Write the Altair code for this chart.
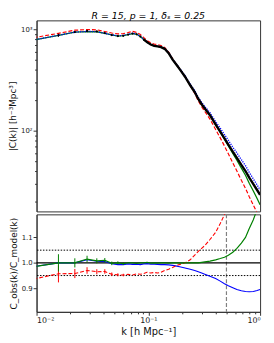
import altair as alt
import pandas as pd

# ---- data ----
k = [0.0094, 0.0157, 0.0220, 0.0283, 0.0346, 0.0408, 0.0471, 0.0534, 0.0597, 0.0660,
     0.0722, 0.0785, 0.0848, 0.0911, 0.0974, 0.105, 0.113, 0.121, 0.130, 0.140,
     0.152, 0.165, 0.180, 0.195, 0.213, 0.237, 0.26, 0.28, 0.30, 0.32,
     0.356, 0.40, 0.44, 0.48, 0.52, 0.57, 0.62, 0.68, 0.74, 0.80,
     0.87, 0.94, 1.00]
c_obs = [770, 870, 935, 960, 950, 915, 875, 855, 860, 885,
         905, 890, 845, 790, 745, 705, 685, 675, 665, 640,
         580, 500, 440, 390, 340, 280, 240, 205, 182, 165,
         142, 115, 98, 84, 73, 62, 54, 46, 40, 34.4,
         29.7, 26, 23.3]
ratio_green = [0.985, 1.000, 1.000, 1.015, 1.008, 1.010, 0.998, 1.000, 0.997, 1.000,
               1.000, 0.998, 1.000, 1.000, 1.002, 0.999, 1.000, 0.999, 1.000, 1.000,
               0.999, 1.000, 1.000, 0.999, 1.000, 1.000, 1.000, 1.000, 1.002, 1.004,
               1.007, 1.012, 1.017, 1.022, 1.030, 1.042, 1.057, 1.078, 1.100, 1.135,
               1.170, 1.210, 1.250]
ratio_red = [0.936, 0.957, 0.958, 0.970, 0.965, 0.966, 0.955, 0.953, 0.952, 0.955,
             0.952, 0.957, 0.955, 0.958, 0.963, 0.960, 0.962, 0.960, 0.963, 0.970,
             0.975, 0.982, 0.990, 0.995, 1.000, 1.012, 1.030, 1.045, 1.057, 1.068,
             1.092, 1.120, 1.155, 1.190, 1.235, 1.290, 1.350, 1.420, 1.480, 1.540,
             1.610, 1.680, 1.750]
ratio_blue = [0.985, 1.000, 1.000, 1.012, 1.006, 1.005, 0.997, 0.993, 0.993, 0.996,
              0.994, 0.995, 0.993, 0.996, 0.997, 0.995, 0.995, 0.994, 0.993, 0.993,
              0.992, 0.990, 0.987, 0.984, 0.980, 0.975, 0.970, 0.965, 0.960, 0.955,
              0.947, 0.938, 0.928, 0.918, 0.910, 0.902, 0.895, 0.890, 0.887, 0.886,
              0.887, 0.891, 0.895]
err_k = [0.0157, 0.0220, 0.0283, 0.0346, 0.0408, 0.0471, 0.0534, 0.0597]
err_rel = [0.034, 0.018, 0.013, 0.010, 0.009, 0.007, 0.006, 0.005]

title_text = "R = 15, p = 1, δₛ = 0.25"
ytop_title = "|C(k)| [h⁻³Mpc³]"
ybot_title = "C_obs(k)/C_model(k)"
x_title = "k [h Mpc⁻¹]"
k_cut = 0.5
ref_levels = [0.95, 1.05]

# ---- tables ----
df = pd.DataFrame({"k": k, "obs": c_obs, "rg": ratio_green, "rr": ratio_red, "rb": ratio_blue})
df["green"] = df["obs"] / df["rg"]
df["red"] = df["obs"] / df["rr"]
df["blue"] = df["obs"] / df["rb"]

idx = {kv: i for i, kv in enumerate(k)}
err = pd.DataFrame({"k": err_k, "e": err_rel})
err["obs_lo"] = [c_obs[idx[kv]] * (1 - e) for kv, e in zip(err_k, err_rel)]
err["obs_hi"] = [c_obs[idx[kv]] * (1 + e) for kv, e in zip(err_k, err_rel)]
err["g_lo"] = [ratio_green[idx[kv]] - e for kv, e in zip(err_k, err_rel)]
err["g_hi"] = [ratio_green[idx[kv]] + e for kv, e in zip(err_k, err_rel)]
err["r_lo"] = [ratio_red[idx[kv]] - e for kv, e in zip(err_k, err_rel)]
err["r_hi"] = [ratio_red[idx[kv]] + e for kv, e in zip(err_k, err_rel)]

W = 227
FONT = "DejaVu Sans"
xscale = alt.Scale(type="log", domain=[0.01, 1], nice=False)

# ---- top panel ----
ytop_scale = alt.Scale(type="log", domain=[16, 1220], nice=False)
ytop_vals = [20, 30, 40, 50, 60, 70, 80, 90, 100, 200, 300, 400, 500, 600, 700, 800, 900, 1000]
ytop_axis = alt.Axis(
    values=ytop_vals,
    labelExpr="datum.value == 100 ? '10²' : datum.value == 1000 ? '10³' : ''",
    tickSize={"condition": {"test": "datum.value == 100 || datum.value == 1000", "value": 3.5}, "value": 2},
    title=ytop_title, grid=False, labelFontSize=7, titleFontSize=9,
    labelPadding=1, titlePadding=3, labelOverlap=False,
)
xt = alt.X("k:Q", scale=xscale, axis=None)

base_top = alt.Chart(df)
green_top = base_top.mark_line(color="green", strokeWidth=1.3, clip=True).encode(
    x=xt, y=alt.Y("green:Q", scale=ytop_scale, axis=ytop_axis))
red_top = base_top.mark_line(color="red", strokeWidth=1.2, strokeDash=[4, 2], clip=True).encode(
    x=xt, y=alt.Y("red:Q", scale=ytop_scale))
blue_top = base_top.mark_line(color="blue", strokeWidth=1.4, strokeDash=[1.2, 1.2], clip=True).encode(
    x=xt, y=alt.Y("blue:Q", scale=ytop_scale))
black_line = base_top.transform_filter("datum.k >= 0.09").mark_line(
    color="black", strokeWidth=2.4, clip=True).encode(x=xt, y=alt.Y("obs:Q", scale=ytop_scale))
black_pts = base_top.transform_filter("datum.k < 0.1").mark_circle(
    color="black", size=5, opacity=1, clip=True).encode(x=xt, y=alt.Y("obs:Q", scale=ytop_scale))
black_err = alt.Chart(err).mark_rule(color="black", strokeWidth=1, clip=True).encode(
    x=xt, y=alt.Y("obs_lo:Q", scale=ytop_scale), y2="obs_hi:Q")

top = alt.layer(green_top, red_top, blue_top, black_line, black_pts, black_err).properties(
    width=W, height=194,
    title=alt.Title(title_text, fontSize=9.5, fontStyle="italic", font=FONT,
                    fontWeight="normal", offset=0, anchor="middle"),
)

# ---- bottom panel ----
ybot_scale = alt.Scale(domain=[0.807, 1.191], nice=False, zero=False)
ybot_axis = alt.Axis(values=[0.9, 1.0, 1.1], format=".1f", title=ybot_title, grid=False,
                     labelFontSize=7, titleFontSize=9, tickSize=3.5, labelPadding=1, titlePadding=3)
xb_vals = [0.01, 0.02, 0.03, 0.04, 0.05, 0.06, 0.07, 0.08, 0.09,
           0.1, 0.2, 0.3, 0.4, 0.5, 0.6, 0.7, 0.8, 0.9, 1.0]
xb_axis = alt.Axis(
    values=xb_vals,
    labelExpr="abs(datum.value - 0.01) < 1e-9 ? '10⁻²' : abs(datum.value - 0.1) < 1e-9 ? '10⁻¹' : abs(datum.value - 1) < 1e-9 ? '10⁰' : ''",
    tickSize={"condition": {"test": "abs(datum.value - 0.01) < 1e-9 || abs(datum.value - 0.1) < 1e-9 || abs(datum.value - 1) < 1e-9", "value": 3.5}, "value": 2},
    title=x_title, grid=False, labelFontSize=8, titleFontSize=10,
    labelPadding=1, titlePadding=2, labelOverlap=False,
)
xb = alt.X("k:Q", scale=xscale, axis=xb_axis)
xb2 = alt.X("k:Q", scale=xscale)

base_bot = alt.Chart(df)
one_line = alt.Chart(pd.DataFrame({"y": [1.0]})).mark_rule(color="black", strokeWidth=1.3).encode(
    y=alt.Y("y:Q", scale=ybot_scale, axis=ybot_axis))
dots = alt.Chart(pd.DataFrame({"y": ref_levels})).mark_rule(
    color="black", strokeWidth=1, strokeDash=[1.5, 1.5]).encode(y=alt.Y("y:Q", scale=ybot_scale))
vcut = alt.Chart(pd.DataFrame({"k": [k_cut]})).mark_rule(
    color="gray", strokeWidth=1.2, strokeDash=[4, 2]).encode(x=xb)
g_bot = base_bot.mark_line(color="green", strokeWidth=1.2, clip=True).encode(
    x=xb2, y=alt.Y("rg:Q", scale=ybot_scale))
r_bot = base_bot.mark_line(color="red", strokeWidth=1.1, strokeDash=[4, 2], clip=True).encode(
    x=xb2, y=alt.Y("rr:Q", scale=ybot_scale))
b_bot = base_bot.mark_line(color="blue", strokeWidth=1.1, clip=True).encode(
    x=xb2, y=alt.Y("rb:Q", scale=ybot_scale))
g_err = alt.Chart(err).mark_rule(color="green", strokeWidth=1, clip=True).encode(
    x=xb2, y=alt.Y("g_lo:Q", scale=ybot_scale), y2="g_hi:Q")
r_err = alt.Chart(err).mark_rule(color="red", strokeWidth=1, clip=True).encode(
    x=xb2, y=alt.Y("r_lo:Q", scale=ybot_scale), y2="r_hi:Q")

bottom = alt.layer(vcut, one_line, dots, b_bot, r_bot, r_err, g_bot, g_err).properties(
    width=W, height=99)

chart = alt.vconcat(top, bottom, spacing=0).properties(
    padding={"left": 0, "top": 0, "right": 4, "bottom": 0}
).configure_view(
    stroke="#333", strokeWidth=1
).configure_axis(
    domainColor="#333", tickColor="#333", labelColor="#222", titleColor="#111",
    labelFont=FONT, titleFont=FONT, titleFontWeight="normal"
).configure_title(font=FONT)

chart.save("out.html", embed_options={"renderer": "svg", "actions": False})
